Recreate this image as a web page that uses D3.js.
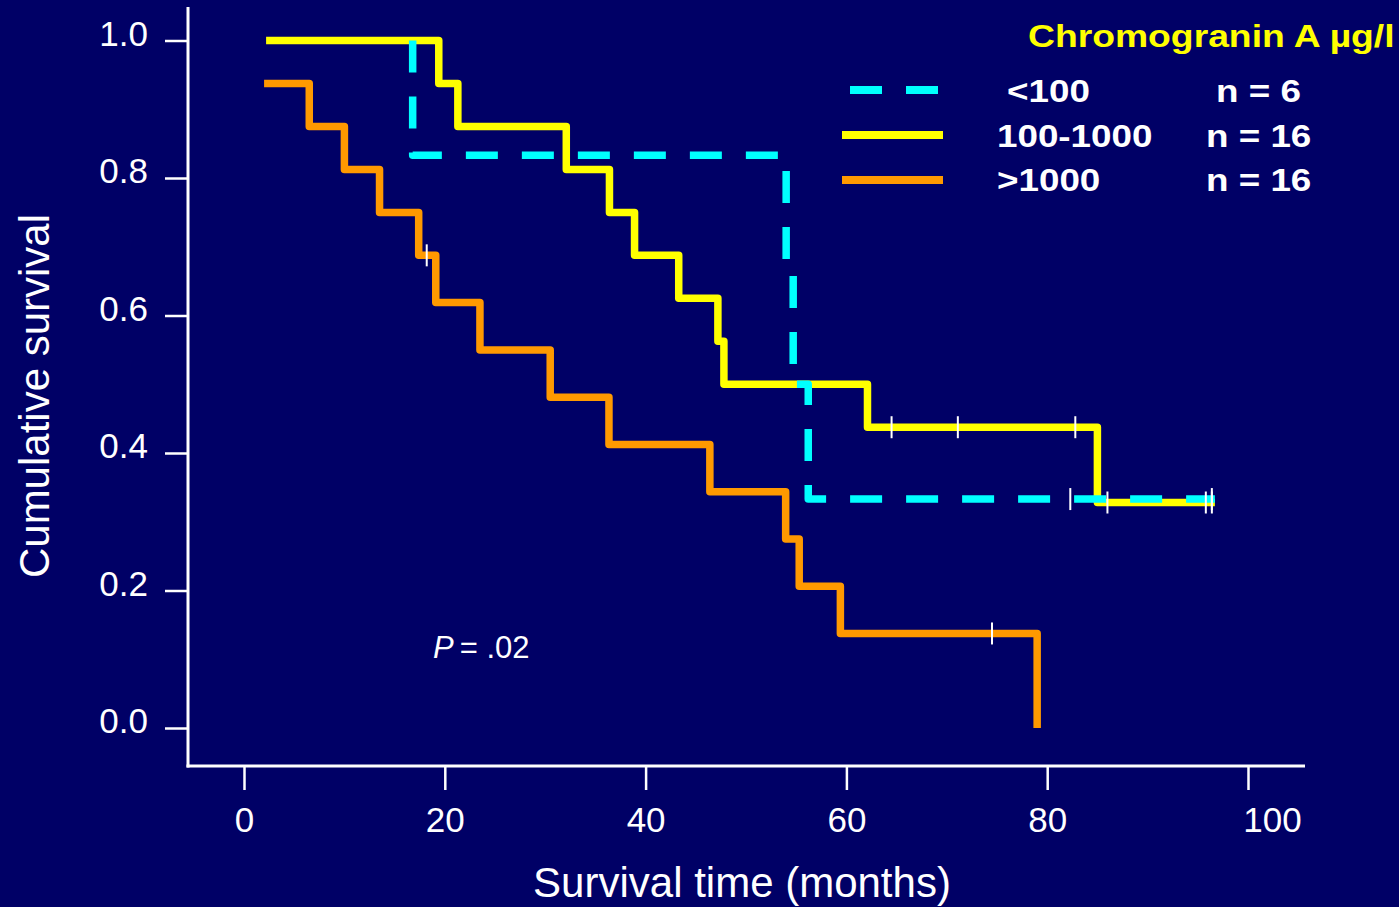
<!DOCTYPE html>
<html>
<head>
<meta charset="utf-8">
<script src="https://cdn.jsdelivr.net/npm/d3@7"></script>
<style>
  html, body { margin: 0; padding: 0; background: #000066; }
  svg { display: block; font-family: "Liberation Sans", Arial, sans-serif; }
</style>
</head>
<body>
<svg width="1399" height="907"></svg>
<script>
// Kaplan-Meier steps: time (months) and survival from that time on
let cyanTimes = [16.8, 16.8, 54.0, 54.7, 56.2, 96.7];
let cyanSurv = [1.0, 0.833, 0.667, 0.5, 0.333, 0.333];
let cyanCensor = [82.3, 96.4];

let yellowTimes = [2.2, 19.4, 21.3, 32.1, 36.4, 38.9, 43.3, 47.2, 47.8, 62.1, 85.0, 96.7];
let yellowSurv = [1.0, 0.9375, 0.875, 0.8125, 0.75, 0.6875, 0.625, 0.5625, 0.5, 0.4375, 0.328, 0.328];
let yellowCensor = [64.5, 71.1, 82.8, 86.0, 95.8, 96.4];

let orangeTimes = [2.0, 6.5, 10.0, 13.5, 17.4, 19.1, 23.5, 30.5, 36.35, 46.4, 53.95, 55.3, 59.4, 79.0];
let orangeSurv = [0.9375, 0.875, 0.8125, 0.75, 0.6875, 0.61875, 0.55, 0.48125, 0.4125, 0.34375, 0.275, 0.20625, 0.1375, 0.0];
let orangeCensor = [18.2, 74.5];

let xTicks = [0, 20, 40, 60, 80, 100];
let yTicks = [0.0, 0.2, 0.4, 0.6, 0.8, 1.0];

let legendLabels = ['<100', '100-1000', '>1000'];
let legendCounts = ['n = 6', 'n = 16', 'n = 16'];

let svg = d3.select('svg');

let x = d3.scaleLinear().domain([0, 100]).range([244, 1248]);
let y = d3.scaleLinear().domain([0, 1]).range([728, 40.5]);

// axes
let yAxis = svg.append('g')
    .attr('transform', 'translate(188,0)')
    .call(d3.axisLeft(y).tickValues(yTicks).tickFormat(d3.format('.1f'))
      .tickSize(23).tickPadding(17).tickSizeOuter(0));
yAxis.select('.domain').remove();
yAxis.selectAll('line').attr('stroke', '#fff').attr('stroke-width', 2.5);
yAxis.selectAll('text')
    .attr('fill', '#fff')
    .attr('font-size', 35)
    .attr('font-family', '"Liberation Sans", Arial, sans-serif')
    .attr('dy', '0.14em');

let xAxis = svg.append('g')
    .attr('transform', 'translate(0,766)')
    .call(d3.axisBottom(x).tickValues(xTicks).tickSize(24).tickPadding(17).tickSizeOuter(0));
xAxis.select('.domain').remove();
xAxis.selectAll('line').attr('stroke', '#fff').attr('stroke-width', 2.5);
xAxis.selectAll('text')
    .attr('fill', '#fff')
    .attr('font-size', 35)
    .attr('font-family', '"Liberation Sans", Arial, sans-serif')
    .attr('dx', (d) => d === 100 ? 24 : 0);

svg.append('line')
    .attr('x1', 188).attr('x2', 188).attr('y1', 7).attr('y2', 767.5)
    .attr('stroke', '#fff').attr('stroke-width', 3);
svg.append('line')
    .attr('x1', 186.5).attr('x2', 1305).attr('y1', 766).attr('y2', 766)
    .attr('stroke', '#fff').attr('stroke-width', 3);

// axis titles
svg.append('text')
    .attr('transform', 'translate(49,396) rotate(-90)')
    .attr('text-anchor', 'middle')
    .attr('fill', '#fff')
    .attr('font-size', 42)
    .text('Cumulative survival');

svg.append('text')
    .attr('x', 742).attr('y', 897)
    .attr('text-anchor', 'middle')
    .attr('fill', '#fff')
    .attr('font-size', 42)
    .text('Survival time (months)');

// curves
let line = d3.line()
    .x((d) => x(d[0]))
    .y((d) => y(d[1]))
    .curve(d3.curveStepAfter);

let series = [
  {times: orangeTimes, surv: orangeSurv, censor: orangeCensor, color: '#ff9900', dash: null},
  {times: yellowTimes, surv: yellowSurv, censor: yellowCensor, color: '#ffff00', dash: null},
  {times: cyanTimes, surv: cyanSurv, censor: cyanCensor, color: '#00ffff', dash: '32,24'}
];

series.forEach((s) => {
  svg.append('path')
      .datum(d3.zip(s.times, s.surv))
      .attr('d', line)
      .attr('fill', 'none')
      .attr('stroke', s.color)
      .attr('stroke-width', 7.5)
      .attr('stroke-linejoin', 'round')
      .attr('stroke-dasharray', s.dash);
});

// censor marks, placed on the step value at that time
function survAt(s, t) {
  let i = d3.bisectRight(s.times, t) - 1;
  return s.surv[Math.max(i, 0)];
}

series.forEach((s) => {
  svg.selectAll(null)
      .data(s.censor)
      .enter().append('line')
      .attr('x1', (d) => x(d)).attr('x2', (d) => x(d))
      .attr('y1', (d) => y(survAt(s, d)) - 11)
      .attr('y2', (d) => y(survAt(s, d)) + 11)
      .attr('stroke', '#fff')
      .attr('stroke-width', 2);
});

// P value
let p = svg.append('text')
    .attr('x', 433).attr('y', 658)
    .attr('fill', '#fff')
    .attr('font-size', 31);
p.append('tspan').attr('font-style', 'italic').text('P');
p.append('tspan').attr('dx', 6).text('= .02');

// legend (text in the slide is stretched sideways)
svg.append('text')
    .attr('transform', 'translate(1028,47) scale(1.165,1)')
    .attr('fill', '#ffff00')
    .attr('font-size', 32)
    .attr('font-weight', 'bold')
    .text('Chromogranin A µg/l');

let legendRows = [
  {y: 90, base: 101.7, lx: 1007, nx: 1216, color: '#00ffff', dash: '32,24', x1: 850, x2: 938},
  {y: 135, base: 146.7, lx: 997, nx: 1206, color: '#ffff00', dash: null, x1: 842, x2: 943},
  {y: 180, base: 190.5, lx: 997, nx: 1206, color: '#ff9900', dash: null, x1: 842, x2: 943}
];

legendRows.forEach((r, i) => {
  svg.append('line')
      .attr('x1', r.x1).attr('x2', r.x2).attr('y1', r.y).attr('y2', r.y)
      .attr('stroke', r.color)
      .attr('stroke-width', 8)
      .attr('stroke-dasharray', r.dash);
  svg.append('text')
      .attr('transform', `translate(${r.lx},${r.base}) scale(1.15,1)`)
      .attr('fill', '#fff')
      .attr('font-size', 32)
      .attr('font-weight', 'bold')
      .text(legendLabels[i]);
  svg.append('text')
      .attr('transform', `translate(${r.nx},${r.base}) scale(1.15,1)`)
      .attr('fill', '#fff')
      .attr('font-size', 32)
      .attr('font-weight', 'bold')
      .text(legendCounts[i]);
});
</script>
</body>
</html>
